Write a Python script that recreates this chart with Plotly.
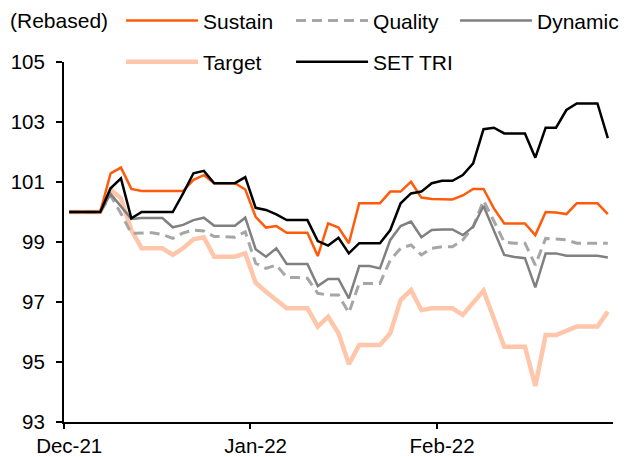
import plotly.graph_objects as go

# one point per trading day, Dec-21 .. Feb-22 (rebased to 100)
POINTS = list(range(53))
TICK_POS = [0, 18, 36]
TICK_LABELS = ["Dec-21", "Jan-22", "Feb-22"]

SUSTAIN = [100, 100, 100, 100, 101.29, 101.48, 100.77, 100.7, 100.7, 100.7,
           100.7, 100.7, 101.07, 101.23, 100.96, 100.96, 100.96, 100.75, 99.84, 99.48,
           99.53, 99.31, 99.31, 99.31, 98.53, 99.62, 99.48, 98.96, 100.29, 100.29,
           100.29, 100.68, 100.68, 101.01, 100.48, 100.43, 100.42, 100.42, 100.55, 100.77,
           100.77, 100.12, 99.62, 99.62, 99.62, 99.23, 100.0, 99.98, 99.93, 100.29,
           100.29, 100.29, 99.93]
QUALITY = [100, 100, 100, 100, 100.55, 99.95, 99.29, 99.31, 99.31, 99.25,
           99.12, 99.3, 99.4, 99.37, 99.18, 99.18, 99.16, 99.34, 98.29, 98.12,
           98.23, 97.82, 97.82, 97.79, 97.29, 97.23, 97.23, 96.64, 97.62, 97.62,
           97.62, 98.4, 98.79, 98.9, 98.57, 98.79, 98.84, 98.84, 99.07, 99.51,
           100.38, 99.7, 98.99, 98.96, 98.96, 98.23, 99.12, 99.1, 99.07, 98.96,
           98.96, 98.96, 98.96]
DYNAMIC = [100, 100, 100, 100, 100.6, 100.2, 99.77, 99.8, 99.8, 99.8,
           99.49, 99.57, 99.73, 99.81, 99.54, 99.54, 99.54, 99.81, 98.76, 98.51,
           98.79, 98.27, 98.27, 98.27, 97.53, 97.77, 97.77, 97.12, 98.2, 98.2,
           98.12, 99.07, 99.53, 99.68, 99.16, 99.4, 99.42, 99.42, 99.23, 99.51,
           100.2, 99.38, 98.57, 98.5, 98.46, 97.49, 98.62, 98.62, 98.54, 98.54,
           98.54, 98.54, 98.48]
TARGET = [100, 100, 100, 100, 100.75, 100.46, 99.4, 98.79, 98.79, 98.79,
          98.57, 98.79, 99.09, 99.16, 98.51, 98.51, 98.51, 98.62, 97.64, 97.34,
          97.07, 96.79, 96.79, 96.79, 96.18, 96.51, 95.96, 94.93, 95.57, 95.57,
          95.57, 95.96, 97.07, 97.4, 96.73, 96.79, 96.79, 96.79, 96.57, 96.96,
          97.38, 96.45, 95.51, 95.51, 95.51, 94.2, 95.9, 95.9, 96.05, 96.18,
          96.18, 96.18, 96.68]
SET_TRI = [100, 100, 100, 100, 100.79, 101.12, 99.79, 100, 100, 100,
           100, 100.62, 101.29, 101.37, 100.96, 100.96, 100.96, 101.16, 100.14, 100.07,
           99.92, 99.73, 99.73, 99.73, 99.03, 98.88, 99.14, 98.62, 98.96, 98.96,
           98.96, 99.4, 100.29, 100.62, 100.68, 100.96, 101.04, 101.04, 101.23, 101.62,
           102.76, 102.81, 102.62, 102.62, 102.62, 101.81, 102.81, 102.81, 103.4, 103.62,
           103.62, 103.62, 102.46]

FONT = "Liberation Sans, Arial, sans-serif"

fig = go.Figure()

# drawn bottom to top; legendrank keeps the legend order of the original
linhas = [
    ("Target", TARGET, dict(color="#FFC6AB", width=4.5), "legend2", 4),
    ("Quality", QUALITY, dict(color="#A6A6A6", width=3, dash="10px,6px"), "legend", 2),
    ("Dynamic", DYNAMIC, dict(color="#808080", width=2.5), "legend3", 3),
    ("Sustain", SUSTAIN, dict(color="#FF5B0A", width=2.5), "legend", 1),
    ("SET TRI", SET_TRI, dict(color="#000000", width=2.5), "legend2", 5),
]
for nome, valores, estilo, legenda, ordem in linhas:
    fig.add_scatter(x=POINTS, y=valores, name=nome, mode="lines", line=estilo,
                    legend=legenda, legendrank=ordem)

legenda_base = dict(orientation="h", xanchor="left", yanchor="middle",
                    itemwidth=72, bgcolor="rgba(0,0,0,0)",
                    font=dict(family=FONT, size=21, color="black"),
                    traceorder="normal")

# the page puts the figure 8 px in from the corner, margins allow for it
fig.update_layout(
    width=630, height=457,
    margin=dict(l=56, r=25, t=54, b=43, autoexpand=False),
    paper_bgcolor="white", plot_bgcolor="white",
    font=dict(family=FONT, size=21, color="black"),
    legend=dict(legenda_base, entrywidth=83, x=0.1039, y=1.114),
    legend3=dict(legenda_base, x=0.7122, y=1.114),
    legend2=dict(legenda_base, entrywidth=83, x=0.1039, y=1.0),
    xaxis=dict(range=[-0.5, 52.5], showgrid=False, zeroline=False,
               showline=True, linecolor="black", linewidth=2,
               tickmode="array", tickvals=TICK_POS, ticktext=TICK_LABELS, ticks="",
               tickfont=dict(size=20.5), ticklabelstandoff=4,
               minor=dict(tickmode="array", tickvals=[-0.5, 17.5, 35.5],
                          ticks="outside", ticklen=5, tickwidth=2, tickcolor="black")),
    yaxis=dict(range=[93, 105], tick0=93, dtick=2, showgrid=False, zeroline=False,
               showline=True, linecolor="black", linewidth=2,
               ticks="outside", ticklen=6, tickwidth=2, tickcolor="black",
               tickfont=dict(size=20.5), ticklabelstandoff=7),
    annotations=[dict(text="(Rebased)", xref="paper", yref="paper", x=-0.102, y=1.114,
                      xanchor="left", yanchor="middle", showarrow=False,
                      font=dict(family=FONT, size=21, color="black"))],
)

fig.write_html("out.html")
